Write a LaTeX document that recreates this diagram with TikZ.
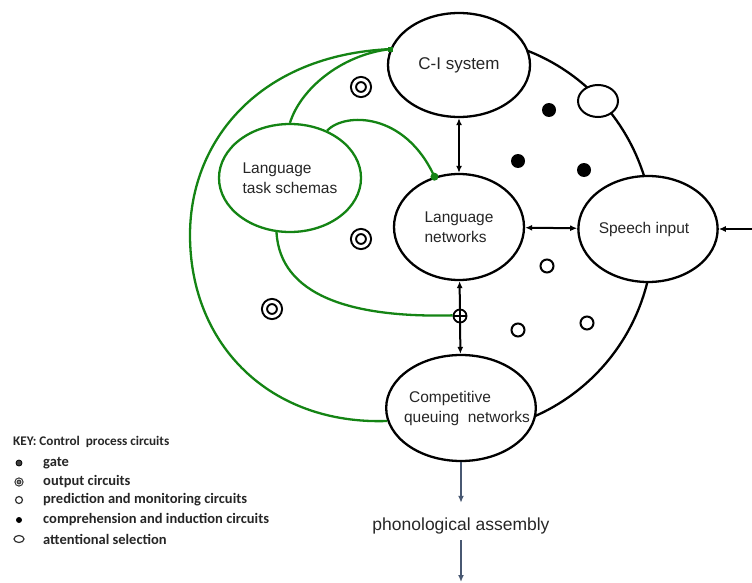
\documentclass[tikz,border=0pt]{standalone}
\usepackage{fontspec}
\setmainfont{Liberation Sans}
\newfontfamily\keyfont{Carlito}
\usetikzlibrary{shapes.geometric,arrows.meta}
\definecolor{lgreen}{RGB}{20,132,20}
\definecolor{slate}{RGB}{72,88,114}
\definecolor{txtc}{RGB}{38,38,38}
\begin{document}
\begin{tikzpicture}[x=1pt,y=-1pt,
  bell/.style={ellipse, draw=black, line width=2.3pt, fill=white, inner sep=0pt},
  gell/.style={ellipse, draw=lgreen, line width=2.3pt, fill=white, inner sep=0pt},
  lbl/.style={font=\fontsize{15.5}{20}\selectfont, text=txtc, align=left},
  dbl/.style={{Latex[length=7pt,width=6pt]}-{Latex[length=7pt,width=6pt]}, line width=2pt},
  sgl/.style={-{Latex[length=7pt,width=6pt]}, line width=2pt},
  blarr/.style={-{Latex[length=7pt,width=6pt]}, line width=1.8pt, draw=slate},
  gline/.style={draw=lgreen, line width=2.3pt},
  outc/.style={circle, draw, double, line width=2pt, double distance=3pt, minimum size=15pt, inner sep=0pt, fill=white},
  compc/.style={circle, fill=black, minimum size=14pt, inner sep=0pt},
  predc/.style={circle, draw, line width=2pt, minimum size=13pt, inner sep=0pt},
  keytxt/.style={font=\keyfont\bfseries\fontsize{14.5}{16}\selectfont, text=txtc, anchor=west, inner sep=0pt},
]
\useasboundingbox (0,0) rectangle (752,583);

% outer arc
\draw[line width=2.3pt] (455,235) ++(72:198pt) arc[start angle=72, end angle=-70, radius=198pt];

% main nodes
\node[bell, minimum width=142pt, minimum height=104pt, lbl, font=\fontsize{17}{20}\selectfont] (ci) at (459,65) {C-I system};
\node[bell, minimum width=130pt, minimum height=106pt, lbl] (ln) at (459,227) {Language\\networks};
\node[bell, minimum width=136pt, minimum height=106pt, lbl] (sp) at (648,229) {Speech input\hspace{8pt}};
\node[bell, minimum width=144pt, minimum height=106pt, lbl, inner xsep=-16pt] (cq) at (461,408) {\hspace{17pt}Competitive\\\hspace{12pt}queuing\ \ networks};
\node[gell, minimum width=142pt, minimum height=108pt, lbl] (lts) at (290,178) {Language\\task schemas\hspace{6pt}};
\node[ellipse, draw, line width=2pt, fill=white, minimum width=40pt, minimum height=32pt, inner sep=0pt] (att) at (598,101) {};

% black connectors
\draw[dbl] (ci) -- (ln);
\draw[dbl] (ln) -- (sp);
\draw[dbl] (ln) -- (cq);
\coordinate (inR) at (752,229);
\draw[sgl] (inR) -- (sp);

% gate
\node[circle, draw, line width=1.8pt, fill=white, minimum size=13pt, inner sep=0pt,
  path picture={\draw[line width=1.5pt] (path picture bounding box.north) -- (path picture bounding box.south)
  (path picture bounding box.west) -- (path picture bounding box.east);}] (gate) at (460,316) {};

% output text and arrows
\node[lbl, font=\fontsize{17.5}{20}\selectfont, text height=27pt, text depth=10pt, inner ysep=0pt, anchor=base] (pa) at (461,530) {phonological assembly};
\coordinate (bot) at (461,582);
\draw[blarr] (cq) -- (pa);
\draw[blarr] (pa) -- (bot);

% green connectors
\draw[gline] (ci.167) .. controls (260,55) and (190,140) .. (190,235)
  .. controls (190,345) and (270,425) .. (cq.190);
\draw[gline] (ci.167) .. controls (340,55) and (300,90) .. (lts.90);
\draw[gline] (lts.52) .. controls (345,112) and (405,112) .. (ln.116);
\draw[gline] (lts.256) .. controls (280,295) and (350,318) .. (gate.175);
\node[fill=lgreen, minimum size=5pt, inner sep=0pt] (gsq) at (ci.167) {};
\node[circle, fill=lgreen, minimum size=8pt, inner sep=0pt] (gdot) at (ln.116) {};

% control circuits
\node[outc] (o1) at (361,87) {};
\node[outc] (o2) at (361,239) {};
\node[outc] (o3) at (272,309) {};
\node[compc] (c1) at (549,110) {};
\node[compc] (c2) at (518,161) {};
\node[compc] (c3) at (584,170) {};
\node[predc] (p1) at (547,266) {};
\node[predc] (p2) at (518,330) {};
\node[predc] (p3) at (587,323) {};

% key
\node[keytxt, font=\keyfont\bfseries\fontsize{13.2}{15}\selectfont] (keyt) at (13,442) {KEY: Control\ \ process circuits};
\node[circle, fill=black!75, draw=black, line width=0.8pt, minimum size=6pt, inner sep=0pt] (k1) at (19,463) {};
\node[circle, draw=black!80, fill=black!45, double, line width=1.1pt, double distance=0.8pt, minimum size=6pt, inner sep=0pt] (k2) at (19,482) {};
\node[circle, draw=black!80, line width=1.2pt, minimum size=7pt, inner sep=0pt] (k3) at (19,500) {};
\node[circle, fill=black, minimum size=6pt, inner sep=0pt] (k4) at (19,520) {};
\node[ellipse, draw=black!80, line width=1.2pt, minimum width=10pt, minimum height=7pt, inner sep=0pt] (k5) at (19,539) {};
\node[keytxt] (kt1) at (43,463) {gate};
\node[keytxt] (kt2) at (43,482) {output circuits};
\node[keytxt] (kt3) at (43,500) {prediction and monitoring circuits};
\node[keytxt] (kt4) at (43,520) {comprehension and induction circuits};
\node[keytxt] (kt5) at (43,539) {attentional selection};
\end{tikzpicture}
\end{document}
